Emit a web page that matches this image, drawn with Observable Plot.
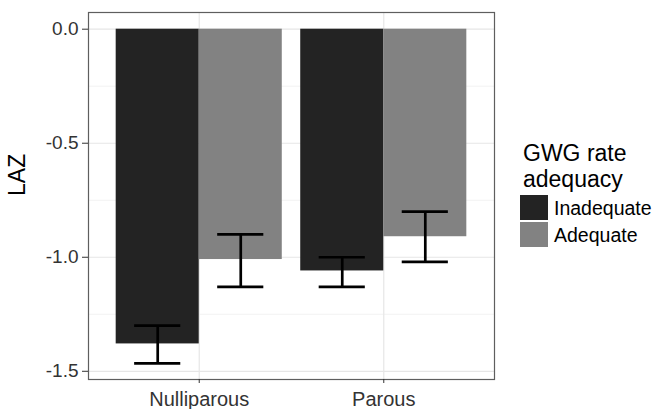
<!DOCTYPE html>
<html>
<head>
<meta charset="utf-8">
<script src="https://cdn.jsdelivr.net/npm/d3@7"></script>
<script src="https://cdn.jsdelivr.net/npm/@observablehq/plot@0.6"></script>
<style>
  html, body { margin: 0; padding: 0; background: #fff; }
  #wrap { position: relative; width: 655px; height: 409px; font-family: "Liberation Sans", Arial, sans-serif; }
  #legend { position: absolute; left: 0; top: 0; width: 655px; height: 409px; pointer-events: none; }
  .lg-title { position: absolute; left: 523px; top: 140px; font-size: 23px; line-height: 26px; color: #000; }
  .lg-key { position: absolute; left: 520px; width: 28px; height: 25px; }
  .lg-label { position: absolute; left: 554px; font-size: 19.5px; line-height: 22px; color: #000; }
</style>
</head>
<body>
<div id="wrap"><div id="legend"></div></div>
<script>
// ---- data ----
const categories = ["Nulliparous", "Parous"];
const groups = ["Inadequate", "Adequate"];
const inadequateMean  = [-1.38, -1.06];
const adequateMean    = [-1.01, -0.91];
const inadequateLower = [-1.465, -1.13];
const inadequateUpper = [-1.30, -1.00];
const adequateLower   = [-1.13, -1.02];
const adequateUpper   = [-0.90, -0.80];
const yTicks = [-1.5, -1.0, -0.5, 0.0];
const yMinor = [-1.25, -0.75, -0.25];
const legendTitle = ["GWG rate", "adequacy"];
const yLabel = "LAZ";

// ---- build table ----
const series = [
  {mean: inadequateMean, lo: inadequateLower, hi: inadequateUpper},
  {mean: adequateMean, lo: adequateLower, hi: adequateUpper}
];
const rows = [];
categories.forEach((cat, ci) => {
  groups.forEach((g, gi) => {
    rows.push({cat, ci, group: g, gi, mean: series[gi].mean[ci], lo: series[gi].lo[ci], hi: series[gi].hi[ci]});
  });
});
const dodge = 0.45;      // width of each dodged bar (total 0.9)
const capHalf = 0.125;   // error bar cap half-width
const pos = d => d.ci + 1;
const center = d => pos(d) + (d.gi - 0.5) * dodge;

const fillColors = ["#232323", "#828282"];

const plot = Plot.plot({
  width: 655,
  height: 409,
  marginLeft: 88,
  marginRight: 161,
  marginTop: 12,
  marginBottom: 30,
  style: {fontFamily: "Liberation Sans, Arial, sans-serif", color: "#333", background: "#fff"},
  x: {type: "linear", domain: [0.4, 2.6], axis: null},
  y: {domain: [-1.536, 0.0732], axis: null},
  color: {domain: groups, range: fillColors},
  marks: [
    Plot.ruleY(yMinor, {stroke: "#f2f2f2", strokeWidth: 1}),
    Plot.ruleY(yTicks, {stroke: "#e6e6e6", strokeWidth: 1.2}),
    Plot.ruleX(categories.map((c, i) => i + 1), {stroke: "#e6e6e6", strokeWidth: 1.2}),
    Plot.rect(rows, {
      x1: d => pos(d) + (d.gi - 1) * dodge,
      x2: d => pos(d) + d.gi * dodge,
      y1: 0, y2: "mean", fill: "group"
    }),
    Plot.ruleX(rows, {x: center, y1: "lo", y2: "hi", stroke: "#000", strokeWidth: 2.7}),
    Plot.ruleY(rows, {y: "lo", x1: d => center(d) - capHalf, x2: d => center(d) + capHalf, stroke: "#000", strokeWidth: 2.7}),
    Plot.ruleY(rows, {y: "hi", x1: d => center(d) - capHalf, x2: d => center(d) + capHalf, stroke: "#000", strokeWidth: 2.7}),
    Plot.frame({stroke: "#5e5e5e", strokeWidth: 1.2}),
    Plot.axisY({ticks: yTicks, tickFormat: d => d.toFixed(1), tickSize: 6, tickPadding: 4, fontSize: 19, stroke: "#333", fill: "#333", label: null}),
    Plot.axisX({ticks: categories.map((c, i) => i + 1), tickFormat: i => categories[i - 1], tickSize: 4, tickPadding: 8, fontSize: 20, stroke: "#333", fill: "#333", label: null}),
    Plot.text([yLabel], {frameAnchor: "left", dx: -70.5, rotate: -90, fontSize: 23, fill: "#000"})
  ]
});
document.getElementById("wrap").prepend(plot);

// ---- legend ----
const colorScale = plot.scale("color");
const legend = document.getElementById("legend");
const t = document.createElement("div");
t.className = "lg-title";
t.innerHTML = legendTitle.join("<br>");
legend.appendChild(t);
groups.forEach((g, i) => {
  const k = document.createElement("div");
  k.className = "lg-key";
  k.style.top = (195 + i * 27) + "px";
  k.style.background = colorScale.apply(g);
  legend.appendChild(k);
  const l = document.createElement("div");
  l.className = "lg-label";
  l.style.top = (197 + i * 27) + "px";
  l.textContent = g;
  legend.appendChild(l);
});
</script>
</body>
</html>
